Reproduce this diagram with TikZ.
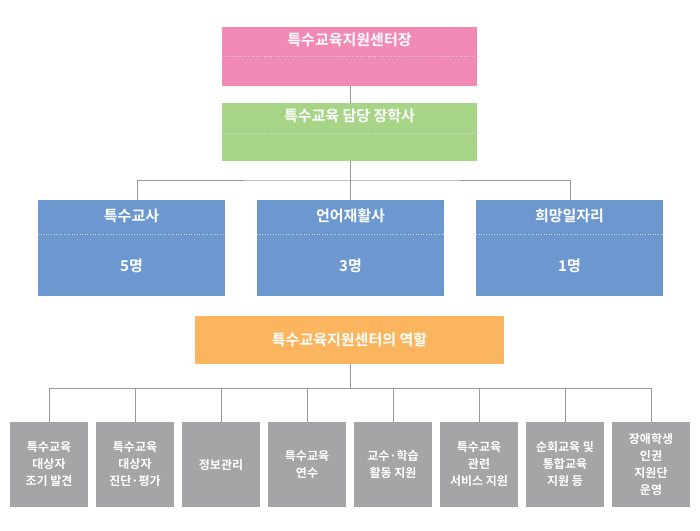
\documentclass[tikz,border=0pt]{standalone}
\usepackage{fontspec}
\setmainfont{Noto Sans CJK KR}[BoldFont={Noto Sans CJK KR Bold}]
\definecolor{headpink}{HTML}{F28AB6}
\definecolor{deputygreen}{HTML}{A8D488}
\definecolor{staffblue}{HTML}{6D98CF}
\definecolor{roleorange}{HTML}{FBB55E}
\definecolor{rolegray}{HTML}{A5A5A7}
\tikzset{
  box/.style={text=white, font=\bfseries\fontsize{15}{17}\selectfont},
  rolebox/.style={text=white, align=center, font=\bfseries\fontsize{12}{17}\selectfont},
  link/.style={draw=black!40, line width=1pt},
  sep/.style={draw=white!85!black, dotted, line width=0.6pt}
}
\begin{document}
\begin{tikzpicture}[x=1pt,y=-1pt]
    \useasboundingbox (0,0) rectangle (700,530);
    % head and deputy
    \fill[headpink] (222,27) rectangle (477,86);
    \fill[deputygreen] (222,103) rectangle (477,161);
    \node[box] (head) at (349.5,40) {특수교육지원센터장};
    \node[box] (deputy) at (349.5,116) {특수교육 담당 장학사};
    \draw[sep] (222,56) -- (477,56);
    \draw[sep] (222,133) -- (477,133);
    \draw[link] (350,86) -- (350,103);
    % staff
    \coordinate (bus) at (350,180);
    \draw[link] (350,161) -- (bus);
    \draw[link] (137,200) |- (bus) -| (570,200);
    \draw[link] (bus) -- (350,200);
    \foreach \x/\t/\n in {38/특수교사/5명, 257/언어재활사/3명, 476/희망일자리/1명} {
        \fill[staffblue] (\x,200) rectangle (\x+187,296);
        \draw[sep] (\x,234) -- (\x+187,234);
        \node[box] at (\x+93.5,216) {\t};
        \node[box] at (\x+93.5,266) {\n};
    }
    % role
    \fill[roleorange] (195,316) rectangle (504,364);
    \node[box] (role) at (349.5,340) {특수교육지원센터의 역할};
    \draw[link] (350,364) -- (350,388);
    \draw[link] (49,388) -- (651,388);
    \foreach \i/\t in {0/{특수교육\\대상자\\조기 발견}, 1/{특수교육\\대상자\\진단·평가}, 2/{정보관리},
                       3/{특수교육\\연수}, 4/{교수·학습\\활동 지원}, 5/{특수교육\\관련\\서비스 지원},
                       6/{순회교육 및\\통합교육\\지원 등}, 7/{장애학생\\인권\\지원단\\운영}} {
        \fill[rolegray] (10+86*\i,422) rectangle (88+86*\i,507);
        \node[rolebox] (r\i) at (49+86*\i,464.5) {\t};
        \draw[link] (49+86*\i,388) -- (49+86*\i,422);
    }
\end{tikzpicture}
\end{document}
